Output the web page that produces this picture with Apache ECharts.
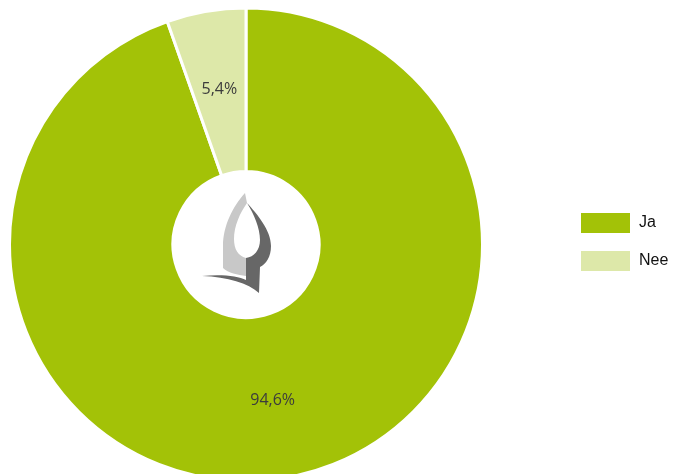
<!DOCTYPE html>
<html>
<head>
<meta charset="utf-8">
<script src="https://cdn.jsdelivr.net/npm/echarts@6/dist/echarts.min.js"></script>
<style>
  html, body { margin: 0; padding: 0; background: #fff; }
  #chart { width: 676px; height: 474px; }
</style>
</head>
<body>
<div id="chart"></div>
<script>
  // antwoorden
  var categories = ['Ja', 'Nee']
  var values = [94.6, 5.4]
  var colors = ['#a3c207', '#dde8a9']

  // logo in het midden (coordinaten binnen een 80x110 vak)
  var logoSvg = '<svg xmlns="http://www.w3.org/2000/svg" width="80" height="110" viewBox="200 190 80 110">' +
    '<path fill="#c8c8c8" d="M245,193 C233,206 223,226 223,246 L223,268 C228,273 238,275 246,276 L246,258 C238,256 234,249 234,239 C234,226 240,213 247,203 Z"/>' +
    '<path fill="#676767" d="M247,203 C257,214 271,230 271,246 C271,257 266,264 260,267 L259,293 C248,283 228,277 202,276 C222,274 238,276 246,280 L246,258 C254,257 260,250 260,240 C260,228 254,214 247,203 Z"/>' +
    '</svg>'

  var chart = echarts.init(document.getElementById('chart'))

  chart.setOption({
    animation: false,
    legend: {
      orient: 'vertical',
      left: 574,
      top: 206,
      itemWidth: 51,
      itemHeight: 22,
      itemGap: 14,
      icon: 'rect',
      textStyle: {
        fontFamily: 'Liberation Sans',
        fontSize: 16,
        color: '#111111',
        padding: [0, 0, 0, 3]
      },
      data: categories
    },
    graphic: [
      {
        type: 'image',
        left: 200,
        top: 190,
        z: 10,
        style: {
          image: 'data:image/svg+xml;charset=utf-8,' + encodeURIComponent(logoSvg),
          width: 80,
          height: 110
        }
      }
    ],
    series: [
      {
        type: 'pie',
        center: [246, 244.5],
        radius: [73, 236.5],
        startAngle: 90,
        clockwise: true,
        itemStyle: {
          borderColor: '#ffffff',
          borderWidth: 3
        },
        label: {
          show: true,
          position: 'inside',
          fontFamily: 'Open Sans',
          fontSize: 16,
          color: '#3c3c3c',
          formatter: function (p) {
            return String(p.value).replace('.', ',') + '%'
          }
        },
        labelLine: { show: false },
        data: categories.map(function (c, i) {
          return { name: c, value: values[i], itemStyle: { color: colors[i] } }
        })
      }
    ]
  })
</script>
</body>
</html>
